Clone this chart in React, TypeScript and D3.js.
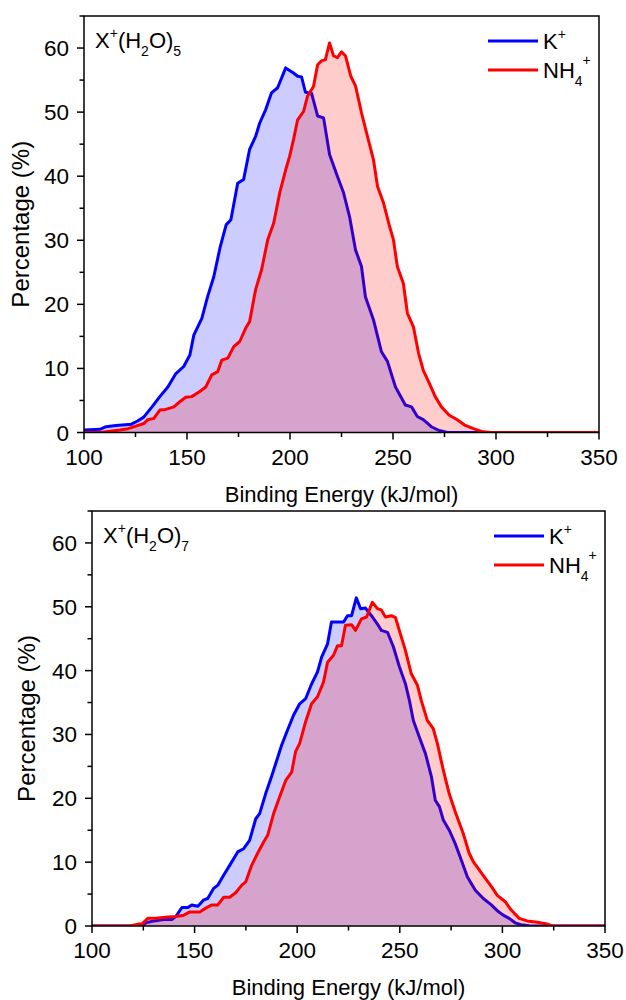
import React from "react";
import * as d3 from "d3";

// ---- Data ----
const xTicks = [100, 150, 200, 250, 300, 350];
const yTicks = [0, 10, 20, 30, 40, 50, 60];

// Top panel: X+(H2O)5
const k5X = [100, 107.7, 110.7, 115.5, 123, 126, 129, 133, 136.8, 140.7, 144.6, 148.4, 151.4, 153.3, 157.2, 160, 163, 166, 169, 171.3, 174.6, 177.5, 180.4, 183.3, 185.3, 188.2, 191, 194, 197.9, 201.7, 203.7, 205.6, 207.5, 210.5, 213.4, 216.3, 219.2, 223, 226, 228.9, 231.8, 234.7, 236.6, 240.5, 244.4, 247.3, 251.2, 256, 259, 261.8, 264.7, 268.6, 272.5, 276.4, 350];
const k5Y = [0.4, 0.5, 0.9, 1.1, 1.3, 1.8, 2.4, 4.0, 5.6, 7.1, 9.2, 10.3, 12.1, 15.2, 17.8, 21.2, 24.3, 28.8, 32.4, 33.2, 38.9, 39.5, 44.2, 46.2, 48.3, 50.4, 53, 53.8, 56.9, 56.1, 55.6, 55.5, 53.1, 52.9, 49.4, 49.1, 43.4, 40, 37.4, 33.7, 28.5, 25.9, 21.2, 17.6, 12.6, 11.1, 7.1, 4.3, 4.0, 2.5, 2.0, 0.9, 0.3, 0, 0];
const nh5X = [100, 108, 111.6, 117.4, 121.3, 125.2, 129, 131, 133.9, 136.8, 139.7, 143.6, 146.5, 149.4, 152.3, 156.2, 159.1, 162, 164.9, 166.9, 169.8, 172.7, 175.6, 178.5, 180.4, 183.3, 186.2, 189.2, 192.1, 195, 197.9, 199.8, 201.7, 203.7, 206.6, 208.5, 211.4, 213.4, 215.3, 217.2, 219.2, 221.1, 223, 225, 226.9, 229.5, 231.8, 234.7, 237.6, 240.5, 242.5, 245.4, 248.3, 250.2, 252.1, 255, 257, 259.9, 262.4, 264.7, 267.6, 270.5, 273.5, 277.3, 281.2, 285.1, 289, 293.8, 297.7, 350];
const nh5Y = [0, 0, 0.15, 0.4, 0.6, 1.0, 1.4, 2.0, 2.2, 3.5, 3.6, 4.0, 4.8, 5.5, 5.6, 6.4, 7.1, 9.0, 9.5, 11.3, 11.6, 13.4, 14.2, 16.3, 17.3, 22.3, 25.4, 30.1, 32.7, 37.4, 41, 43.1, 45.7, 48.8, 50.1, 52.5, 54, 57.4, 58, 58.2, 60.8, 58.8, 58.5, 59.4, 58.8, 55.6, 54.1, 49.9, 46.2, 42.6, 38.4, 35.8, 32.2, 30.1, 25.9, 23.3, 18.6, 16.5, 12.4, 9.7, 7.7, 5.6, 4.0, 2.7, 2.0, 1.1, 0.6, 0.1, 0, 0];

// Bottom panel: X+(H2O)7
const k7X = [100, 124.3, 126.3, 130.2, 135, 138.9, 140.9, 143.8, 146.7, 148.6, 151.6, 154.5, 156.4, 159.3, 161.3, 164.2, 167.1, 171, 173.9, 176.8, 179.8, 181.7, 184.6, 187.5, 189.5, 192.4, 195.3, 198.2, 201.2, 204.1, 207, 209.9, 211.9, 214.8, 216.7, 219.6, 222.6, 224.5, 226.5, 228.8, 230.9, 233.3, 236.2, 239.1, 241, 244, 246.9, 249.8, 252.7, 254.7, 256.6, 259.5, 262.5, 265.4, 267.3, 269.3, 271.2, 274.1, 277, 280, 282.9, 286.8, 290.7, 294.6, 297.5, 300.4, 303.3, 306.2, 309.1, 313, 320, 350];
const k7Y = [0, 0, 0.5, 0.8, 1.0, 1.0, 1.5, 2.9, 2.9, 3.3, 3.1, 4.1, 4.3, 5.9, 6.4, 8.0, 9.5, 11.6, 12.1, 13.4, 16.8, 17.6, 20.7, 23.4, 25.4, 28.3, 30.7, 33, 34.8, 35.6, 37.9, 39.8, 42.1, 44.2, 47.6, 47.6, 47.6, 48.6, 48.6, 51.4, 49.7, 49.8, 48.6, 47.3, 46.3, 46.0, 43.7, 40.6, 38, 35.3, 32.2, 29.6, 27, 23.4, 19.7, 18.7, 16.6, 15.0, 12.9, 10.3, 7.7, 5.6, 4.3, 3.3, 2.4, 1.7, 1.2, 0.5, 0.2, 0.05, 0, 0];
const nh7X = [100, 118.5, 122.4, 124.3, 127.2, 131.1, 137, 140.9, 144.7, 147.7, 152.5, 155.4, 158.4, 161.3, 164.2, 167.1, 170, 173, 174.9, 177.8, 180.7, 183.7, 185.6, 188.5, 191.4, 194.4, 197.3, 199.2, 201.2, 204.1, 207, 209.9, 212.8, 214.8, 217.7, 219.6, 221.6, 223.5, 226.5, 228.4, 231.3, 233.8, 236.6, 239.1, 241, 243, 245.9, 247.9, 250.8, 252.7, 255.6, 258.6, 260.5, 263.4, 266.3, 268.3, 271.2, 274.1, 277, 280.9, 283.8, 285.8, 288.7, 291.6, 294.6, 297.5, 301.4, 304.3, 308.2, 312.1, 317, 321.8, 324.7, 350];
const nh7Y = [0, 0, 0.3, 0.3, 1.2, 1.2, 1.4, 1.5, 1.7, 2.2, 2.2, 2.8, 3.3, 3.3, 4.5, 4.5, 5.2, 6.4, 6.9, 9.5, 11.4, 13.2, 14.2, 17.6, 20.2, 22.8, 24.1, 27.3, 28.6, 32, 34.8, 35.9, 38.2, 41.3, 42.4, 43.9, 43.9, 47.1, 47.2, 46.3, 48.1, 48.4, 50.7, 49.7, 49.5, 48.4, 48.6, 48.3, 45.2, 43.2, 39.5, 37.7, 35.3, 32.2, 30.9, 28.6, 24.4, 20.7, 17.9, 14.5, 11.4, 10.1, 8.8, 7.5, 6.2, 4.8, 3.8, 2.5, 1.2, 0.8, 0.6, 0.3, 0, 0];

const seriesNames = ["K", "NH"];
const panelSub = ["5", "7"];

const FONT = "'Liberation Sans', Arial, sans-serif";
const BLUE = "#0000ff";
const RED = "#ff0000";
const TICK_FS = 22.5;
const TITLE_FS = 22;
const YTITLE_FS = 24;

type Box = { left: number; right: number; top: number; bottom: number };

function zip(xs: number[], ys: number[]): [number, number][] {
  return xs.map((x, i) => [x, ys[i]] as [number, number]);
}

function Panel({ box, kData, nData, sub, ytitleX, id }: { box: Box; kData: [number, number][]; nData: [number, number][]; sub: string; ytitleX: number; id: string }) {
  const x = d3.scaleLinear().domain([100, 350]).range([box.left, box.right]);
  const y = d3.scaleLinear().domain([0, 65]).range([box.bottom, box.top]);
  const area = d3.area<[number, number]>().x((d) => x(d[0])).y0(y(0)).y1((d) => y(d[1]));
  const line = d3.line<[number, number]>().x((d) => x(d[0])).y((d) => y(d[1]));
  const xMinor = d3.range(125, 350, 50);
  const yMinor = d3.range(5, 66, 10);
  const cx = (box.left + box.right) / 2;
  const cy = (box.top + box.bottom) / 2;
  const lx0 = box.right - 111;
  const lx1 = box.right - 61;
  const ly0 = box.top + 25;
  const ly1 = box.top + 54;
  return (
    <g>
      <defs>
        <clipPath id={id}>
          <rect x={box.left} y={box.top} width={box.right - box.left} height={box.bottom - box.top} />
        </clipPath>
      </defs>
      <g clipPath={`url(#${id})`}>
        <path d={area(kData) || ""} fill={BLUE} fillOpacity={0.2} />
        <path d={line(kData) || ""} fill="none" stroke={BLUE} strokeWidth={3} strokeLinejoin="round" />
        <path d={area(nData) || ""} fill={RED} fillOpacity={0.2} />
        <path d={line(nData) || ""} fill="none" stroke={RED} strokeWidth={3} strokeLinejoin="round" />
      </g>
      <rect x={box.left} y={box.top} width={box.right - box.left} height={box.bottom - box.top} fill="none" stroke="#000" strokeWidth={1.5} />
      {xTicks.map((t) => (
        <g key={"xt" + t}>
          <line x1={x(t)} x2={x(t)} y1={box.bottom} y2={box.bottom + 7} stroke="#000" strokeWidth={1.5} />
          <text x={x(t)} y={box.bottom + 32} textAnchor="middle" fontSize={TICK_FS} fontFamily={FONT}>{t}</text>
        </g>
      ))}
      {xMinor.map((t) => (
        <line key={"xm" + t} x1={x(t)} x2={x(t)} y1={box.bottom} y2={box.bottom + 4.5} stroke="#000" strokeWidth={1.5} />
      ))}
      {yTicks.map((t) => (
        <g key={"yt" + t}>
          <line x1={box.left - 7} x2={box.left} y1={y(t)} y2={y(t)} stroke="#000" strokeWidth={1.5} />
          <text x={box.left - 15} y={y(t) + 8} textAnchor="end" fontSize={TICK_FS} fontFamily={FONT}>{t}</text>
        </g>
      ))}
      {yMinor.map((t) => (
        <line key={"ym" + t} x1={box.left - 4.5} x2={box.left} y1={y(t)} y2={y(t)} stroke="#000" strokeWidth={1.5} />
      ))}
      <text x={cx} y={box.bottom + 69} textAnchor="middle" fontSize={TITLE_FS} fontFamily={FONT}>Binding Energy (kJ/mol)</text>
      <text transform={`translate(${ytitleX},${cy}) rotate(-90)`} textAnchor="middle" fontSize={YTITLE_FS} fontFamily={FONT}>Percentage (%)</text>
      <text x={box.left + 11} y={box.top + 31.5} fontSize={22} fontFamily={FONT}>
        X<tspan fontSize={14} dy={-10}>+</tspan><tspan dy={10}>(H</tspan><tspan fontSize={14} dy={8}>2</tspan><tspan dy={-8}>O)</tspan><tspan fontSize={14} dy={8}>{sub}</tspan>
      </text>
      <line x1={lx0} x2={lx1} y1={ly0} y2={ly0} stroke={BLUE} strokeWidth={3} />
      <line x1={lx0} x2={lx1} y1={ly1} y2={ly1} stroke={RED} strokeWidth={3} />
      <text x={lx1 + 5} y={ly0 + 8} fontSize={22} fontFamily={FONT}>
        {seriesNames[0]}<tspan fontSize={14} dy={-10}>+</tspan>
      </text>
      <text x={lx1 + 5} y={ly1 + 8} fontSize={22} fontFamily={FONT}>
        {seriesNames[1]}<tspan fontSize={14} dy={8}>4</tspan><tspan fontSize={14} dy={-21}>+</tspan>
      </text>
    </g>
  );
}

export default function App() {
  const top: Box = { left: 84, right: 599, top: 16, bottom: 432.5 };
  const bot: Box = { left: 92, right: 605, top: 511, bottom: 926 };
  return (
    <svg width={626} height={1000} style={{ position: "absolute", left: 0, top: 0, background: "#fff" }}>
      <rect x={0} y={0} width={626} height={1000} fill="#fff" />
      <Panel box={top} kData={zip(k5X, k5Y)} nData={zip(nh5X, nh5Y)} sub={panelSub[0]} ytitleX={29} id="clipTop" />
      <Panel box={bot} kData={zip(k7X, k7Y)} nData={zip(nh7X, nh7Y)} sub={panelSub[1]} ytitleX={35} id="clipBot" />
    </svg>
  );
}
